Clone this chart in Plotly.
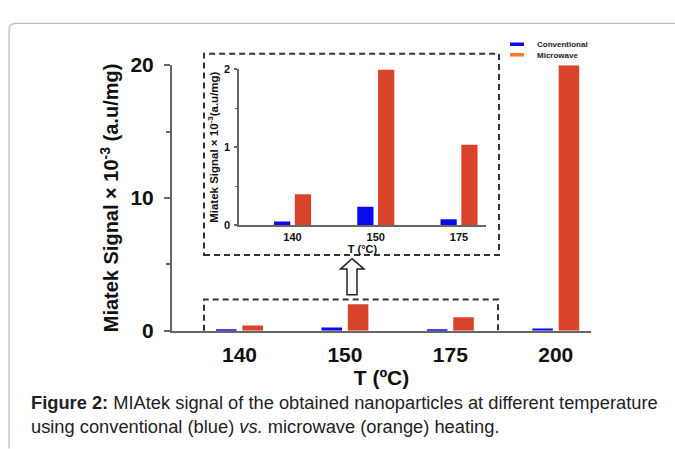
import plotly.graph_objects as go

W, H = 675, 449

# ---------------- data ----------------
categories = ["140", "150", "175", "200"]
conventional = [0.05, 0.25, 0.07, 0.18]
microwave = [0.40, 1.99, 1.02, 20.0]

inset_categories = ["140", "150", "175"]
inset_conventional = [0.05, 0.24, 0.08]
inset_microwave = [0.40, 1.99, 1.03]

series_names = ["Conventional", "Microwave"]

BLUE = "#0a0af0"
RED = "#d8432a"
ORANGE = "#ff7a2a"
AXIS = "#666666"
FONT = "Liberation Sans, Arial, sans-serif"


def px(x):
    return x / W


def py(y):
    return 1 - y / H


fig = go.Figure()

# main chart bars
fig.add_trace(go.Bar(x=categories, y=conventional, marker=dict(color=BLUE, line=dict(width=0)),
                     showlegend=False, xaxis="x", yaxis="y", name=series_names[0]))
fig.add_trace(go.Bar(x=categories, y=microwave, marker=dict(color=RED, line=dict(width=0)),
                     showlegend=False, xaxis="x", yaxis="y", name=series_names[1]))
# inset bars
fig.add_trace(go.Bar(x=inset_categories, y=inset_conventional, marker=dict(color=BLUE, line=dict(width=0)),
                     showlegend=False, xaxis="x2", yaxis="y2", name=series_names[0]))
fig.add_trace(go.Bar(x=inset_categories, y=inset_microwave, marker=dict(color=RED, line=dict(width=0)),
                     showlegend=False, xaxis="x2", yaxis="y2", name=series_names[1]))

# legend entries (short line swatches)
fig.add_trace(go.Scatter(x=[None], y=[None], mode="markers", name=series_names[0],
                         marker=dict(symbol="line-ew", size=10, line=dict(width=3.5, color=BLUE)),
                         legend="legend"))
fig.add_trace(go.Scatter(x=[None], y=[None], mode="markers", name=series_names[1],
                         marker=dict(symbol="line-ew", size=10, line=dict(width=3.5, color=ORANGE)),
                         legend="legend2"))

bold = dict(family=FONT, color="#111111", weight="bold")

legend_common = dict(xanchor="left", yanchor="middle", bgcolor="rgba(0,0,0,0)",
                     font=dict(family=FONT, size=8, color="#222222", weight="bold"),
                     borderwidth=0)

fig.update_layout(
    width=W, height=H,
    margin=dict(l=0, r=0, t=0, b=0),
    paper_bgcolor="white", plot_bgcolor="rgba(0,0,0,0)",
    barmode="group", bargap=0.5, bargroupgap=0.22,
    legend=dict(x=px(497), y=py(34), **legend_common),
    legend2=dict(x=px(497), y=py(45), **legend_common),
    xaxis=dict(domain=[px(172), px(591)], type="category", range=[-0.64, 3.334],
               showline=True, linecolor=AXIS, linewidth=2, ticks="", showgrid=False,
               zeroline=False, tickfont=dict(size=21, **bold), ticklabelstandoff=4,
               title=dict(text="T (ºC)", font=dict(size=21, **bold), standoff=4),
               fixedrange=True),
    yaxis=dict(domain=[py(336), py(56)], range=[0, 20], tickvals=[0, 10, 20],
               showline=True, linecolor=AXIS, linewidth=2, ticks="outside", ticklen=6,
               tickwidth=2, tickcolor=AXIS, showgrid=False, zeroline=False,
               minor=dict(tickvals=[5, 15], ticks="outside", ticklen=4, tickwidth=1.5, tickcolor=AXIS),
               tickfont=dict(size=21, **bold), ticklabelstandoff=6,
               title=dict(text="Miatek Signal × 10<sup>-3</sup> (a.u/mg)", font=dict(size=20, **bold),
                          standoff=6),
               fixedrange=True),
    xaxis2=dict(domain=[px(239), px(486)], type="category", range=[-0.643, 2.324], anchor="y2",
                showline=True, linecolor=AXIS, linewidth=1.5, ticks="", showgrid=False,
                zeroline=False, tickfont=dict(size=11, **bold), ticklabelstandoff=1,
                title=dict(text="T (°C)", font=dict(size=11, **bold), standoff=0),
                fixedrange=True),
    yaxis2=dict(domain=[py(225), py(60)], range=[0, 2], tickvals=[0, 1, 2], anchor="x2",
                showline=True, linecolor=AXIS, linewidth=1.5, ticks="outside", ticklen=3,
                tickwidth=1.5, tickcolor=AXIS, showgrid=False, zeroline=False,
                minor=dict(tickvals=[0.5, 1.5], ticks="outside", ticklen=2, tickwidth=1, tickcolor=AXIS),
                tickfont=dict(size=11, **bold), ticklabelstandoff=2,
                title=dict(text="Miatek Signal × 10<sup>-3</sup>(a.u/mg)", font=dict(size=11.5, **bold),
                           standoff=3),
                fixedrange=True),
)

shapes = []
# card border
shapes.append(dict(type="path", xref="paper", yref="paper",
                   path=f"M {px(9)},{py(460)} L {px(9)},{py(19)} Q {px(9)},{py(12)} {px(16)},{py(12)} L {px(690)},{py(12)}",
                   line=dict(color="#bdbdbd", width=1.2)))
# inset dashed box
shapes.append(dict(type="rect", xref="paper", yref="paper",
                   x0=px(204), x1=px(499), y0=py(256), y1=py(44),
                   line=dict(color="#333333", width=2, dash="6px,4px")))
# lower dashed box (open at the bottom, on the axis)
shapes.append(dict(type="path", xref="paper", yref="paper",
                   path=f"M {px(204)},{py(336)} L {px(204)},{py(303)} L {px(498)},{py(303)} L {px(498)},{py(336)}",
                   line=dict(color="#333333", width=2, dash="6px,4px")))
# hollow up arrow
ax = [352, 364, 357, 357, 347, 347, 340.5]
ay = [260, 271, 271, 298, 298, 271, 271]
arrow = "M " + " L ".join(f"{px(x)},{py(y)}" for x, y in zip(ax, ay)) + " Z"
shapes.append(dict(type="path", xref="paper", yref="paper", path=arrow,
                   line=dict(color="#222222", width=1.5), fillcolor="white"))
fig.update_layout(shapes=shapes)

fig.add_annotation(
    xref="paper", yref="paper", x=px(29), y=py(398), xanchor="left", yanchor="top",
    align="left", showarrow=False,
    text="<b>Figure 2:</b> MIAtek signal of the obtained nanoparticles at different temperature<br>"
         "using conventional (blue) <i>vs.</i> microwave (orange) heating.",
    font=dict(family=FONT, size=18.3, color="#222222"),
)

fig.write_html(
    "out.html",
    config={"displayModeBar": False},
    post_script="document.body.style.margin='0';document.body.style.overflow='hidden';",
)
